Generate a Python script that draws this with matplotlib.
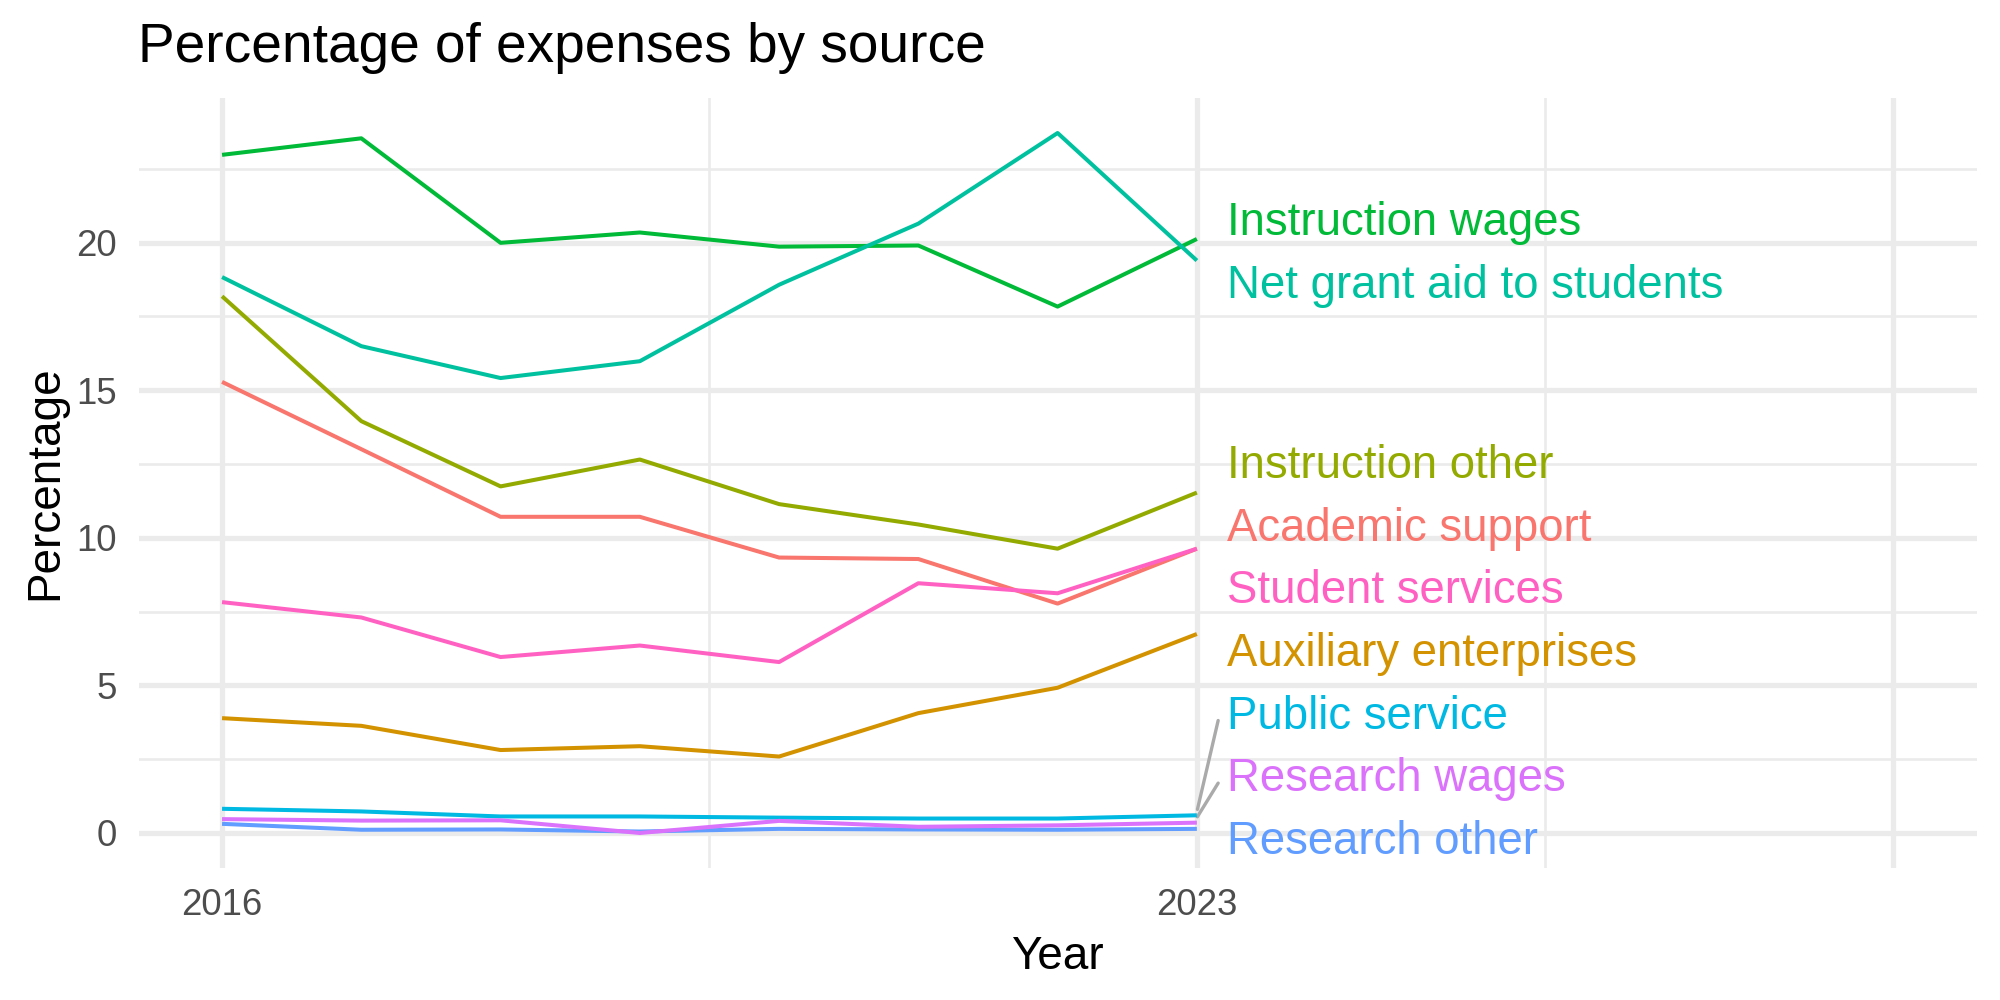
import matplotlib
matplotlib.use('Agg')
import matplotlib.pyplot as plt
from matplotlib.ticker import FixedLocator, MultipleLocator
import numpy as np

plt.rcParams['font.family'] = ['Liberation Sans', 'DejaVu Sans']

YEARS = [2016, 2017, 2018, 2019, 2020, 2021, 2022, 2023]

SOURCES = [
    'Academic support',
    'Auxiliary enterprises',
    'Instruction other',
    'Instruction wages',
    'Net grant aid to students',
    'Public service',
    'Research other',
    'Research wages',
    'Student services',
]

academic_support = [15.28, 13.00, 10.71, 10.71, 9.33, 9.28, 7.77, 9.63]
auxiliary_enterprises = [3.89, 3.63, 2.81, 2.94, 2.59, 4.06, 4.92, 6.74]
instruction_other = [18.18, 13.95, 11.74, 12.65, 11.14, 10.45, 9.63, 11.53]
instruction_wages = [22.97, 23.53, 19.99, 20.34, 19.86, 19.90, 17.83, 20.12]
net_grant_aid = [18.83, 16.49, 15.41, 15.98, 18.57, 20.64, 23.71, 19.39]
public_service = [0.82, 0.73, 0.56, 0.56, 0.52, 0.49, 0.49, 0.60]
research_other = [0.31, 0.11, 0.12, 0.05, 0.14, 0.12, 0.11, 0.14]
research_wages = [0.47, 0.42, 0.43, 0.00, 0.41, 0.21, 0.26, 0.35]
student_services = [7.82, 7.30, 5.96, 6.35, 5.79, 8.46, 8.12, 9.63]

SERIES = [
    academic_support, auxiliary_enterprises, instruction_other,
    instruction_wages, net_grant_aid, public_service,
    research_other, research_wages, student_services,
]

# ggplot2 default hue palette for 9 groups
COLORS = ['#F8766D', '#D39200', '#93AA00', '#00BA38', '#00C19F',
          '#00B9E3', '#619CFF', '#DB72FB', '#FF61C3']

X_BREAKS = [2016, 2023, 2028]
X_LABELS = ['2016', '2023', '']


def repel_labels(values, gap, lower):
    """Spread end-of-line labels vertically so they don't overlap."""
    order = sorted(range(len(values)), key=lambda i: (-values[i], i))
    y = np.array([values[i] for i in order], dtype=float)
    for _ in range(500):
        for i in range(len(y) - 1):
            d = y[i] - y[i + 1]
            if d < gap:
                shift = (gap - d) / 2
                y[i] += shift
                y[i + 1] -= shift
        y[-1] = max(y[-1], lower)
    out = np.empty_like(y)
    out[order] = y
    return out


fig = plt.figure(figsize=(10, 5), dpi=200)
ax = fig.add_axes([0.06925, 0.132, 0.9191, 0.770])

for vals, color in zip(SERIES, COLORS):
    ax.plot(YEARS, vals, color=color, lw=1.45, zorder=3, solid_capstyle='butt')

all_vals = np.concatenate(SERIES)
ymin, ymax = all_vals.min(), all_vals.max()
ypad = (ymax - ymin) * 0.05
ax.set_ylim(ymin - ypad, ymax + ypad)
xpad = (X_BREAKS[-1] - X_BREAKS[0]) * 0.05
ax.set_xlim(X_BREAKS[0] - xpad, X_BREAKS[-1] + xpad)

# end labels, ggrepel style
last = [s[-1] for s in SERIES]
label_y = repel_labels(last, 2.12, -0.13)
label_x = YEARS[-1] + 0.218
for name, color, v, ly in zip(SOURCES, COLORS, last, label_y):
    ax.text(label_x, ly, name, color=color, fontsize=16.4,
            ha='left', va='center_baseline', zorder=4)
    if ly - v > 1.4:
        ax.plot([YEARS[-1] + 0.004, label_x - 0.065], [v + 0.2, ly - 0.3],
                color='#AAAAAA', lw=1.2, zorder=2, solid_capstyle='round')

# theme_minimal look
for sp in ax.spines.values():
    sp.set_visible(False)
ax.xaxis.set_major_locator(FixedLocator(X_BREAKS))
ax.set_xticklabels(X_LABELS)
ax.xaxis.set_minor_locator(FixedLocator([2019.5, 2025.5]))
ax.yaxis.set_major_locator(MultipleLocator(5))
ax.yaxis.set_minor_locator(FixedLocator([2.5, 7.5, 12.5, 17.5, 22.5]))
ax.grid(which='major', color='#EBEBEB', lw=1.9)
ax.grid(which='minor', color='#EBEBEB', lw=0.95)
ax.set_axisbelow(True)
ax.tick_params(which='both', length=0)
ax.tick_params(axis='x', pad=7.2, labelsize=13.2, labelcolor='#4D4D4D')
ax.tick_params(axis='y', pad=7.7, labelsize=13.2, labelcolor='#4D4D4D')

fig.text(0.06925, 1 - 0.0617, 'Percentage of expenses by source',
         fontsize=19.8, ha='left', va='baseline')
fig.text(0.06925 + 0.9191 / 2, 1 - 0.935, 'Year', fontsize=16.5,
         ha='center', va='top')
fig.text(0.0115, 0.132 + 0.770 / 2, 'Percentage', fontsize=16.5,
         rotation=90, ha='left', va='center')

fig.savefig('out.png', dpi=200)
